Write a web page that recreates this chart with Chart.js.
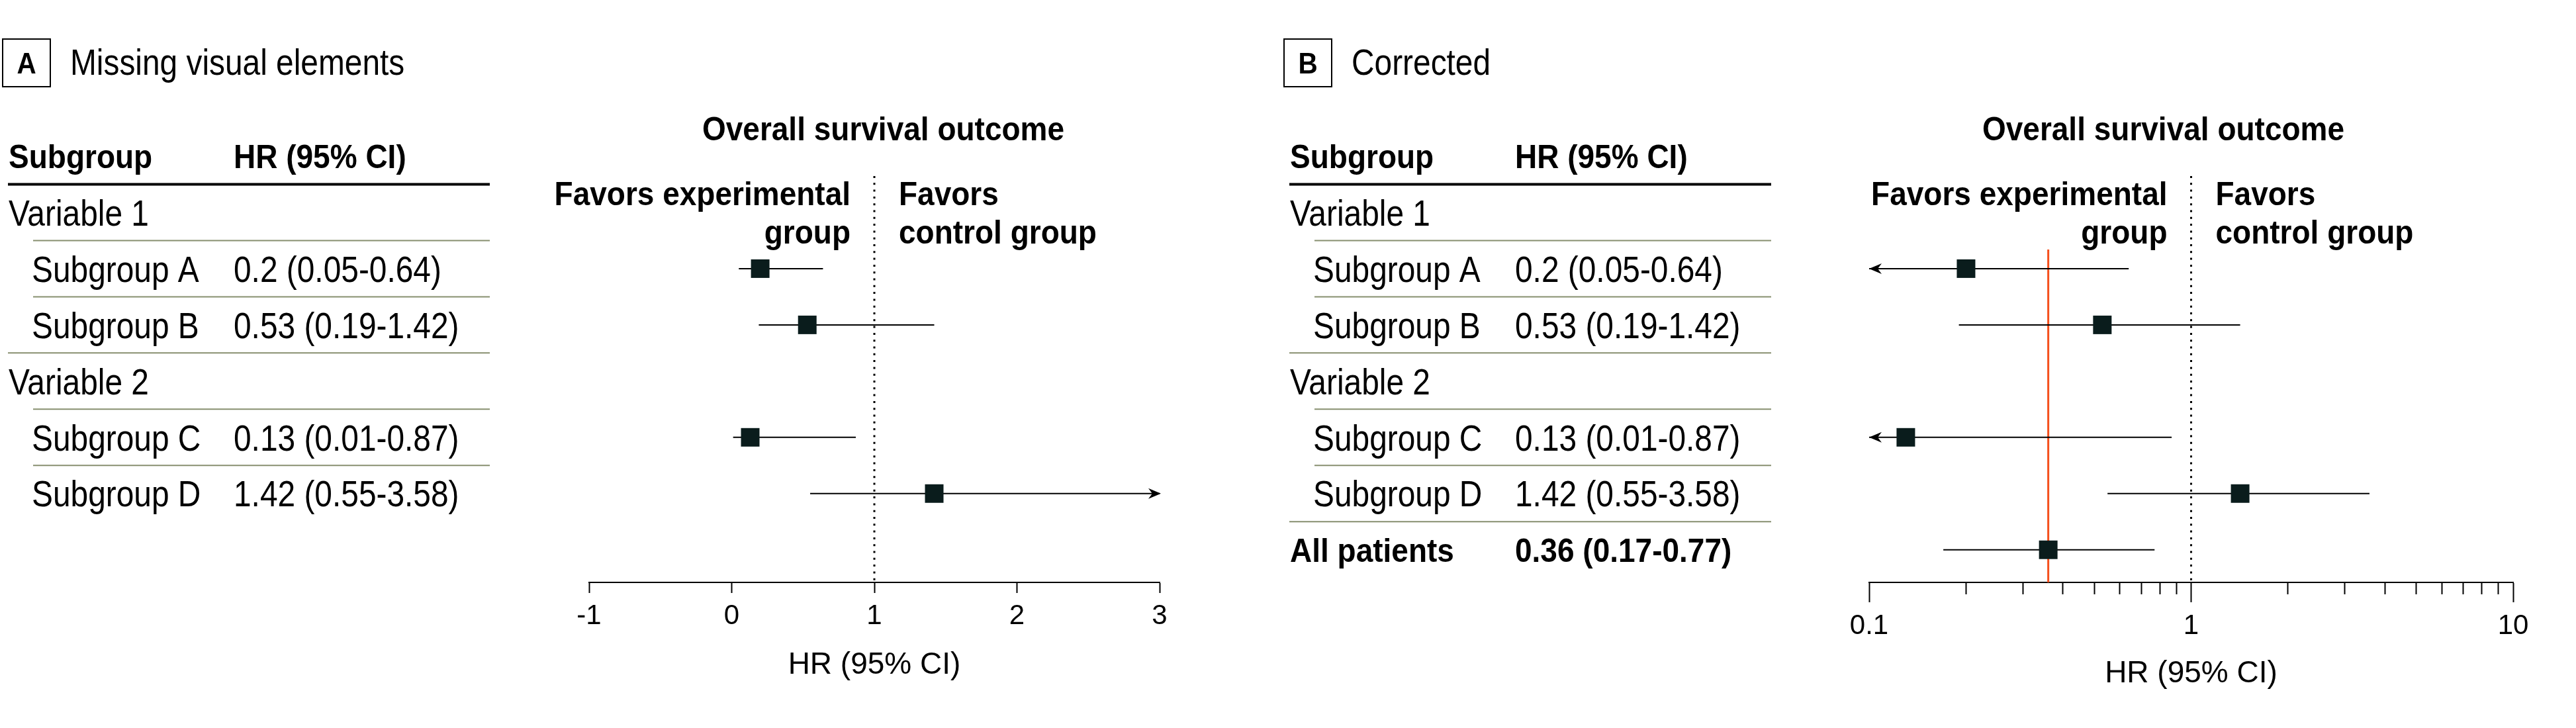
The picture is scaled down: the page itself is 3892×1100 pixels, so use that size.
<!DOCTYPE html>
<html lang="en">
<head>
  <meta charset="UTF-8">
  <title>Overall survival outcome - forest plots</title>
  <script src="https://cdn.jsdelivr.net/npm/chart.js"></script>
  <style>
    body { margin: 0; background: #fff; }
    .panel { position: absolute; top: 0; height: 1100px; }
    #panelA { left: 0; width: 1936px; }
    #panelB { left: 1936px; width: 1956px; }
  </style>
</head>
<body>

<div class="panel" id="panelA"><canvas id="chartA" width="1936" height="1100"></canvas></div>
<div class="panel" id="panelB"><canvas id="chartB" width="1956" height="1100"></canvas></div>

<script>
  // ---- data ----
  const variableNames = ['Variable 1', 'Variable 2'];
  const subgroupNames = ['Subgroup A', 'Subgroup B', 'Subgroup C', 'Subgroup D'];
  const subgroupVariable = [0, 0, 1, 1];
  const hrValues = [0.2, 0.53, 0.13, 1.42];
  const ciLower = [0.05, 0.19, 0.01, 0.55];
  const ciUpper = [0.64, 1.42, 0.87, 3.58];
  const overallLabel = 'All patients';
  const overallHR = 0.36;
  const overallLower = 0.17;
  const overallUpper = 0.77;
  const nullEffect = 1;

  const linearTicks = [-1, 0, 1, 2, 3];
  const logTicks = [0.1, 0.2, 0.3, 0.4, 0.5, 0.6, 0.7, 0.8, 0.9, 1, 2, 3, 4, 5, 6, 7, 8, 9, 10];
  const logTickLabels = [0.1, 1, 10];

  // ---- styling ----
  const FONT = '"Liberation Sans", Arial, sans-serif';
  const REG = { size: 55, squeeze: 0.87, half: 19.7 };   // regular text
  const BLD = { size: 50, squeeze: 0.92, half: 17.9 };   // bold text
  const INK = '#000';
  const BOX = '#0a1c1c';
  const RULE = '#878f6f';
  const RED = '#f54f1c';
  Chart.defaults.font.family = FONT;
  Chart.defaults.color = INK;

  // build the table rows (row 0 is the header)
  function buildRows(withOverall) {
    const rows = [];
    let r = 0;
    variableNames.forEach((v, vi) => {
      r++;
      rows.push({ kind: 'variable', row: r, label: v });
      subgroupNames.forEach((s, si) => {
        if (subgroupVariable[si] !== vi) return;
        r++;
        rows.push({ kind: 'sub', row: r, label: s, hr: hrValues[si], lo: ciLower[si], hi: ciUpper[si] });
      });
    });
    if (withOverall) {
      r++;
      rows.push({ kind: 'overall', row: r, label: overallLabel, hr: overallHR, lo: overallLower, hi: overallUpper });
    }
    return rows;
  }

  function txt(ctx, s, x, y, style, bold, align, size) {
    ctx.save();
    ctx.font = (bold ? 'bold ' : '') + (size || style.size) + 'px ' + FONT;
    ctx.fillStyle = INK;
    ctx.textBaseline = 'alphabetic';
    ctx.textAlign = align || 'left';
    ctx.translate(x, y);
    ctx.scale(style.squeeze, 1);
    ctx.fillText(s, 0, 0);
    ctx.restore();
  }

  function arrowHead(ctx, x, y, dir) {
    ctx.beginPath();
    ctx.moveTo(x, y);
    ctx.lineTo(x - dir * 19, y - 8);
    ctx.lineTo(x - dir * 13, y);
    ctx.lineTo(x - dir * 19, y + 8);
    ctx.closePath();
    ctx.fill();
  }

  const panelDecor = {
    id: 'panelDecor',
    beforeDatasetsDraw(chart, args, o) {
      const { ctx, chartArea: ca, scales: { x } } = chart;
      ctx.save();
      // dotted line of no effect
      const xn = x.getPixelForValue(nullEffect);
      ctx.strokeStyle = INK;
      ctx.lineWidth = 3;
      ctx.setLineDash([3, 7.3]);
      ctx.beginPath();
      ctx.moveTo(xn, 266);
      ctx.lineTo(xn, ca.bottom);
      ctx.stroke();
      // overall estimate line
      if (o.overall) {
        const xr = x.getPixelForValue(overallHR);
        ctx.setLineDash([]);
        ctx.strokeStyle = RED;
        ctx.lineWidth = 3;
        ctx.beginPath();
        ctx.moveTo(xr, 377);
        ctx.lineTo(xr, ca.bottom);
        ctx.stroke();
      }
      ctx.restore();
    },
    afterDatasetsDraw(chart, args, o) {
      const { ctx, chartArea: ca, scales: { x, y } } = chart;
      ctx.save();
      ctx.fillStyle = INK;
      o.rows.forEach(r => {
        if (r.hr === undefined) return;
        const py = y.getPixelForValue(r.row);
        if (r.lo < x.min) arrowHead(ctx, ca.left, py, -1);
        if (r.hi > x.max) arrowHead(ctx, ca.right + 2, py, 1);
      });
      ctx.restore();
    },
    afterDraw(chart, args, o) {
      const { ctx, chartArea: ca, scales: { x, y } } = chart;
      // panel letter box and caption
      ctx.save();
      ctx.strokeStyle = INK;
      ctx.lineWidth = 2;
      ctx.strokeRect(4, 59, 72, 72);
      ctx.restore();
      txt(ctx, o.letter, 40, 110.5, BLD, true, 'center', 44);
      txt(ctx, o.caption, 106, 113, REG, false);

      // table
      const L = { left: 13, indent: 48, value: 353, ruleLeft: 12, subRule: 50, right: 740 };
      const base = (row, st) => y.getPixelForValue(row) + st.half;
      txt(ctx, 'Subgroup', L.left, base(0, BLD), BLD, true);
      txt(ctx, 'HR (95% CI)', L.value, base(0, BLD), BLD, true);

      const hline = (x1, x2, yy, w, c) => {
        ctx.save();
        ctx.strokeStyle = c;
        ctx.lineWidth = w;
        ctx.beginPath();
        ctx.moveTo(x1, yy);
        ctx.lineTo(x2, yy);
        ctx.stroke();
        ctx.restore();
      };

      o.rows.forEach((r, i) => {
        const ry = y.getPixelForValue(r.row - 0.5);
        if (i === 0) hline(L.ruleLeft, L.right, ry, 4, INK);
        else if (r.kind === 'sub') hline(L.subRule, L.right, ry, 2, RULE);
        else hline(L.ruleLeft, L.right, ry, 2, RULE);

        const bold = r.kind === 'overall';
        const st = bold ? BLD : REG;
        const lx = r.kind === 'sub' ? L.indent : L.left;
        txt(ctx, r.label, lx, base(r.row, st), st, bold);
        if (r.hr !== undefined) {
          txt(ctx, `${r.hr} (${r.lo}-${r.hi})`, L.value, base(r.row, st), st, bold);
        }
      });

      // plot header texts
      const xn = x.getPixelForValue(nullEffect);
      txt(ctx, 'Overall survival outcome', ca.left + 444.5, 212, BLD, true, 'center');
      txt(ctx, 'Favors experimental', xn - 36, 310, BLD, true, 'right');
      txt(ctx, 'group', xn - 36, 368, BLD, true, 'right');
      txt(ctx, 'Favors', xn + 37, 310, BLD, true, 'left');
      txt(ctx, 'control group', xn + 37, 368, BLD, true, 'left');
    }
  };

  function makePanel(canvasId, p) {
    const rows = buildRows(p.overall);
    const plotted = rows.filter(r => r.hr !== undefined);

    const datasets = plotted.map(r => ({
      data: [{ x: r.lo, y: r.row }, { x: r.hi, y: r.row }],
      showLine: true,
      borderColor: INK,
      borderWidth: 2,
      pointRadius: 0,
      order: 2
    }));
    datasets.push({
      data: plotted.map(r => ({ x: r.hr, y: r.row })),
      pointStyle: 'rect',
      pointRadius: 19.8,
      pointBackgroundColor: BOX,
      pointBorderWidth: 0,
      order: 1
    });

    return new Chart(document.getElementById(canvasId), {
      type: 'scatter',
      data: { datasets },
      options: {
        responsive: false,
        animation: false,
        layout: { padding: { left: p.padLeft, right: p.padRight, top: 236, bottom: p.padBottom } },
        plugins: {
          legend: { display: false },
          tooltip: { enabled: false },
          panelDecor: { rows, overall: p.overall, letter: p.letter, caption: p.caption }
        },
        scales: {
          x: p.xScale,
          y: { type: 'linear', display: false, reverse: true, min: 0, max: 7.58 }
        }
      },
      plugins: [panelDecor]
    });
  }

  const axisTitle = (padTop) => ({
    display: true,
    text: 'HR (95% CI)',
    font: { size: 46 },
    color: INK,
    padding: { top: padTop, bottom: 0 }
  });

  // Panel A: linear axis
  makePanel('chartA', {
    letter: 'A',
    caption: 'Missing visual elements',
    overall: false,
    padLeft: 890,
    padRight: 184,
    padBottom: 66.9,
    xScale: {
      type: 'linear',
      min: linearTicks[0],
      max: linearTicks[linearTicks.length - 1],
      afterBuildTicks: s => { s.ticks = linearTicks.map(v => ({ value: v })); },
      border: { display: true, color: INK, width: 2 },
      grid: { drawOnChartArea: false, drawTicks: true, tickLength: 16, tickColor: INK, tickWidth: 2 },
      ticks: { font: { size: 42 }, color: INK, padding: 10, autoSkip: false, maxRotation: 0,
               callback: v => String(v) },
      title: axisTitle(11.5)
    }
  });

  // Panel B: log axis
  makePanel('chartB', {
    letter: 'B',
    caption: 'Corrected',
    overall: true,
    padLeft: 888,
    padRight: 95,
    padBottom: 54.4,
    xScale: {
      type: 'logarithmic',
      min: logTicks[0],
      max: logTicks[logTicks.length - 1],
      afterBuildTicks: s => { s.ticks = logTicks.map(v => ({ value: v })); },
      border: { display: true, color: INK, width: 2 },
      grid: {
        drawOnChartArea: false, drawTicks: true, tickLength: 30, tickColor: INK, tickWidth: 2,
        tickBorderDash: c => (c.tick && logTickLabels.includes(c.tick.value)) ? [] : [17, 100]
      },
      ticks: { font: { size: 42 }, color: INK, padding: 11, autoSkip: false, maxRotation: 0,
               callback: v => logTickLabels.includes(v) ? String(v) : '' },
      title: axisTitle(8)
    }
  });
</script>

</body>
</html>
